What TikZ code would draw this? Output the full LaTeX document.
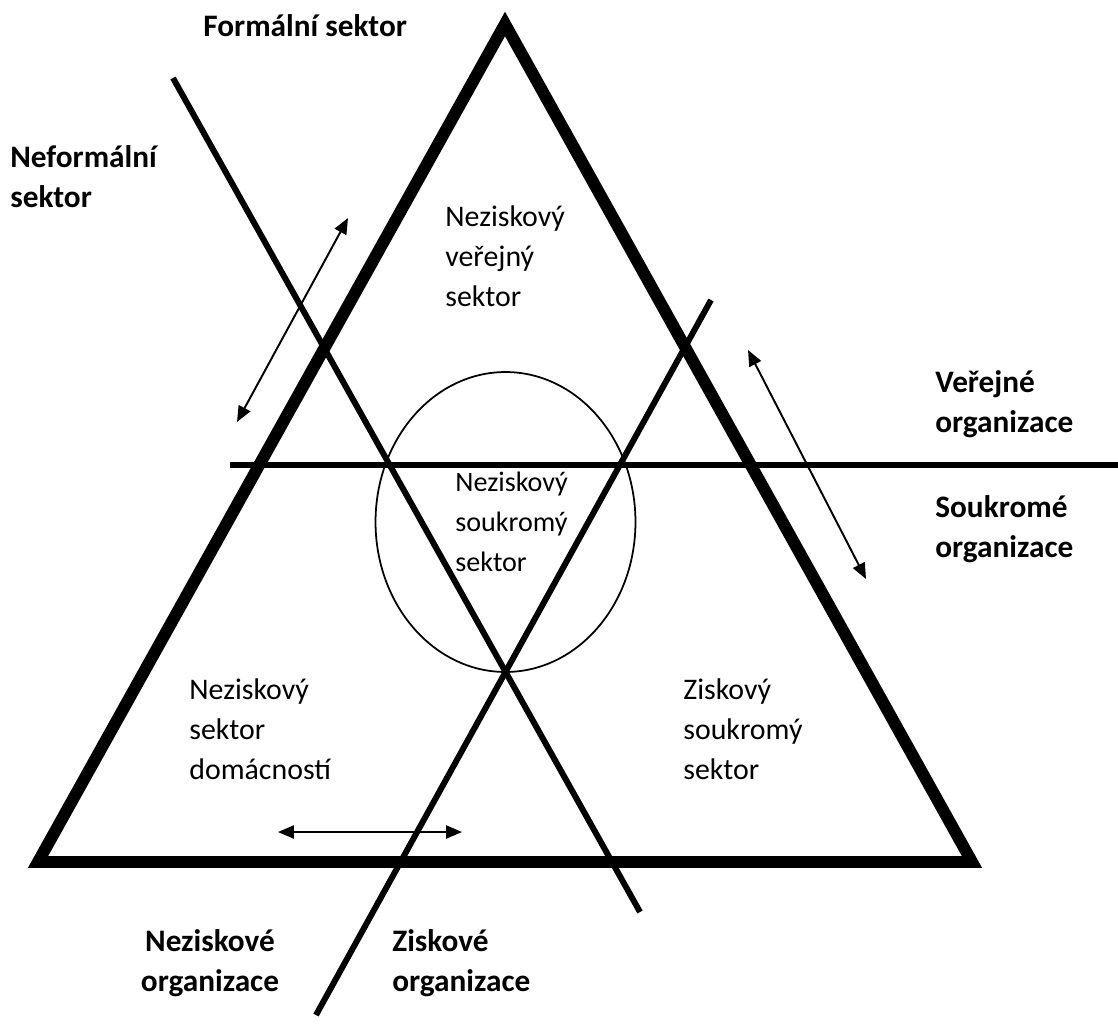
\documentclass[tikz,border=0pt]{standalone}
\usepackage{fontspec}
\setmainfont{Carlito}
\usetikzlibrary{arrows.meta, shapes.geometric}
\newcommand{\sipka}[2]
{
	\draw[sipka] (#1) -- (#2)
}

\begin{document}
\begin{tikzpicture}[x=0.02cm, y=-0.02cm,
	every node/.append style={inner sep=0pt, align=left, anchor=base west,
		font=\fontsize{17}{22.7}\selectfont},
	stred/.style={font=\fontsize{16}{22.7}\selectfont},
	popis/.style={font=\fontsize{17.8}{22.7}\selectfont\bfseries},
	hrana/.style={line width=6.8pt, line join=miter},
	delici/.style={line width=3.4pt},
	sipka/.style={line width=1.1pt, {Triangle[length=9pt,width=7.4pt]}-{Triangle[length=9pt,width=7.4pt]}}]

	\useasboundingbox (0, 0) rectangle (1118, 1024);

	% vrcholy trojuhelniku
	\coordinate (T) at (505, 24);
	\coordinate (L) at (38, 862);
	\coordinate (R) at (972, 862);
	\draw[hrana] (T) -- (L) -- (R) -- cycle;

	% delici primky
	\coordinate (F1) at (173, 78);
	\coordinate (F2) at (640, 912);
	\coordinate (Z1) at (711, 300);
	\coordinate (Z2) at (316, 1015);
	\coordinate (V1) at (230, 465);
	\coordinate (V2) at (1118, 465);
	\draw[delici] (F1) -- (F2);
	\draw[delici] (Z1) -- (Z2);
	\draw[delici] (V1) -- (V2);

	\node[draw, ellipse, line width=1pt, minimum width=5.2cm, minimum height=6cm, anchor=center] at (505.5, 522) (kruh){};

	% sipky
	\coordinate (A1) at (237, 422);
	\coordinate (A2) at (348, 218);
	\coordinate (B1) at (748, 350);
	\coordinate (B2) at (866, 579);
	\coordinate (C1) at (278, 832);
	\coordinate (C2) at (462, 832);
	\sipka{A1}{A2};
	\sipka{B1}{B2};
	\sipka{C1}{C2};

	% sektory (base = posledni radek)
	\node at (445, 306) (verejny){Neziskový\\veřejný\\sektor};
	\node[stred] at (455, 571) (soukromy){Neziskový\\soukromý\\sektor};
	\node at (189, 779) (domacnosti){Neziskový\\sektor\\domácností};
	\node at (683, 779) (ziskovy){Ziskový\\soukromý\\sektor};

	% popisky
	\node[popis] at (203, 37) (formalni){Formální sektor};
	\node[popis] at (10, 207) (neformalni){Neformální\\sektor};
	\node[popis] at (935, 432) (verejne){Veřejné\\organizace};
	\node[popis] at (935, 557) (soukrome){Soukromé\\organizace};
	\node[popis, align=center, anchor=base] at (210, 991) (neziskove){Neziskové\\organizace};
	\node[popis] at (392, 991) (ziskove){Ziskové\\organizace};
\end{tikzpicture}
\end{document}
